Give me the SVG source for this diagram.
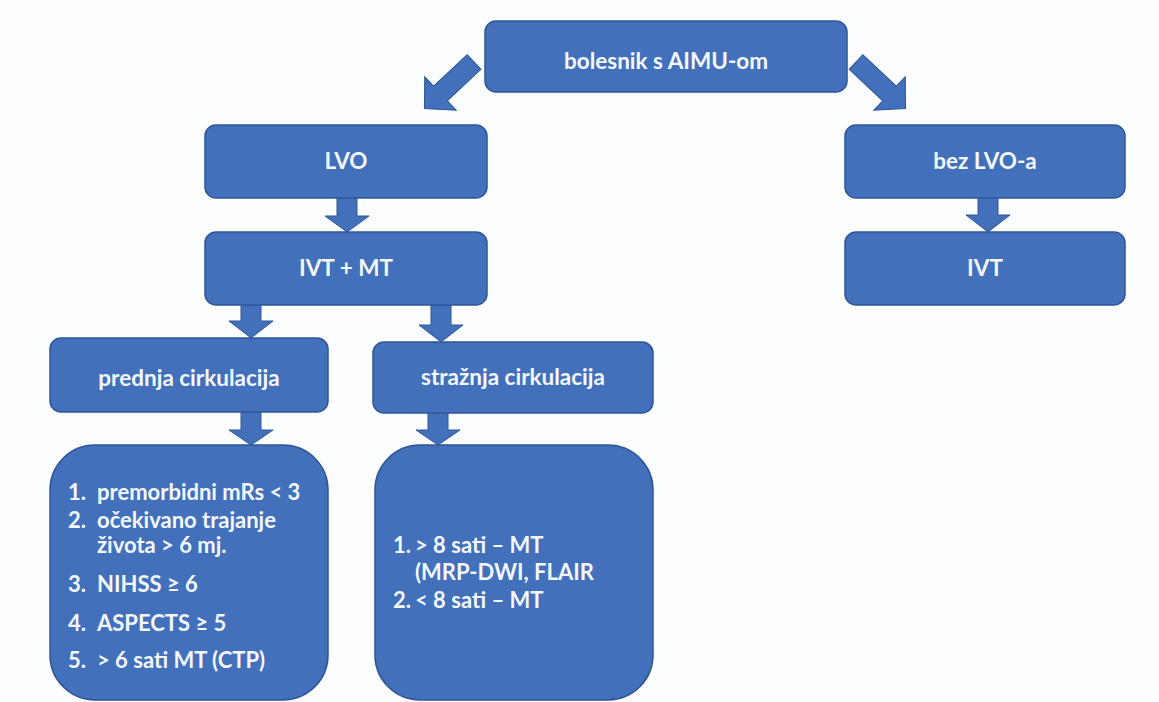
<svg xmlns="http://www.w3.org/2000/svg" width="1159" height="702" viewBox="0 0 1159 702">
<style>
.box{fill:#4270BB;stroke:#2F5597;stroke-width:1.5}
.arr{fill:#4270BB;stroke:#2F5597;stroke-width:1}
.t{font-family:Lato,"Liberation Sans",sans-serif;font-weight:bold;fill:#F4F7FC;font-size:22.5px;text-anchor:middle}
.l{font-family:Lato,"Liberation Sans",sans-serif;font-weight:bold;fill:#F4F7FC;font-size:22px}
</style>
<rect width="1159" height="702" fill="#FCFDFE"/>
<g id="connectors">
<path class="arr" transform="translate(474,62) rotate(46.8)" d="M-10,0 H10 V46 H23 L0,68 L-23,46 H-10 Z"/>
<path class="arr" transform="translate(856,62) rotate(-46.8)" d="M-10,0 H10 V46 H23 L0,68 L-23,46 H-10 Z"/>
<path class="arr" d="M337,197 H357 V216 H369 L347,232 L325,216 H337 Z"/>
<path class="arr" d="M241,304 H261 V321 H273 L251,338 L229,321 H241 Z"/>
<path class="arr" d="M431,304 H451 V325 H463 L441,342 L419,325 H431 Z"/>
<path class="arr" d="M241,411 H261 V430 H273 L251,445 L229,430 H241 Z"/>
<path class="arr" d="M428,412 H448 V430 H460 L438,445 L416,430 H428 Z"/>
<path class="arr" d="M978,197 H998 V215 H1010 L988,232 L966,215 H978 Z"/>
</g>
<g id="n-top"><rect class="box" x="485" y="21" width="362" height="71" rx="11"/><text class="t" x="666" y="69">bolesnik s AIMU-om</text></g>
<g id="n-lvo"><rect class="box" x="205" y="125" width="282" height="73" rx="11"/><text class="t" x="346" y="169">LVO</text></g>
<g id="n-ivtmt"><rect class="box" x="205" y="232" width="282" height="73" rx="11"/><text class="t" x="346" y="276">IVT + MT</text></g>
<g id="n-bezlvo"><rect class="box" x="845" y="125" width="280" height="73" rx="11"/><text class="t" x="985" y="169">bez LVO-a</text></g>
<g id="n-ivt"><rect class="box" x="845" y="232" width="280" height="73" rx="11"/><text class="t" x="985" y="276">IVT</text></g>
<g id="n-prednja"><rect class="box" x="50" y="338" width="278" height="74" rx="11"/><text class="t" x="189" y="386">prednja cirkulacija</text></g>
<g id="n-straznja"><rect class="box" x="373" y="342" width="280" height="71" rx="11"/><text class="t" x="513" y="385">stražnja cirkulacija</text></g>
<g id="n-list1"><rect class="box" x="50" y="445" width="278" height="255" rx="45"/>
<text class="l" x="68" y="500">1.</text><text class="l" x="97" y="500">premorbidni mRs &lt; 3</text>
<text class="l" x="68" y="528">2.</text><text class="l" x="97" y="528">očekivano trajanje</text>
<text class="l" x="97" y="553">života &gt; 6 mj.</text>
<text class="l" x="68" y="592">3.</text><text class="l" x="97" y="592">NIHSS ≥ 6</text>
<text class="l" x="68" y="631">4.</text><text class="l" x="97" y="631">ASPECTS ≥ 5</text>
<text class="l" x="68" y="668">5.</text><text class="l" x="97" y="668">&gt; 6 sati MT (CTP)</text>
</g>
<g id="n-list2"><rect class="box" x="375" y="445" width="278" height="255" rx="45"/>
<text class="l" x="393" y="553">1.</text><text class="l" x="415" y="553">&gt; 8 sati – MT</text>
<text class="l" x="415" y="580">(MRP-DWI, FLAIR</text>
<text class="l" x="393" y="608">2.</text><text class="l" x="415" y="608">&lt; 8 sati – MT</text>
</g>
</svg>
